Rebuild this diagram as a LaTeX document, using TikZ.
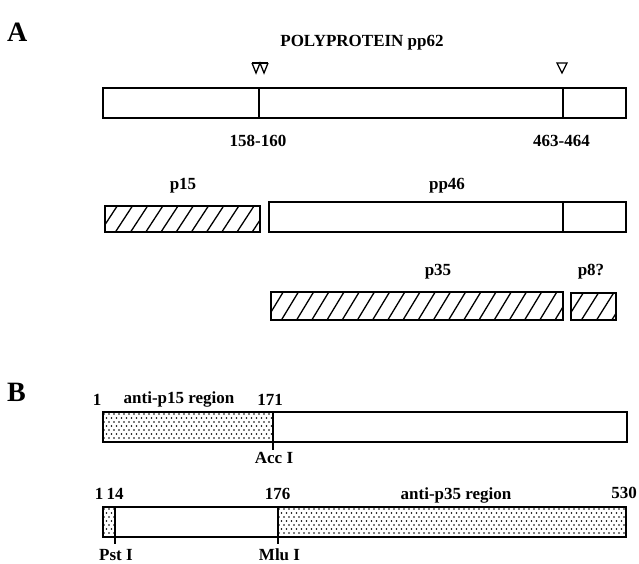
\documentclass[tikz,border=0pt]{standalone}
\usepackage{fontspec}
\setmainfont{Liberation Serif}
\newcommand\myhatch[4]{%
  \begin{scope}
    \clip (#1,#2) rectangle (#3,#4);
    \foreach \i in {0,...,24} {
      \pgfmathsetmacro\xx{#1-20+15.2*\i}
      \draw[line width=1.3pt] (\xx,#4) -- (\xx+17,#2);
    }
  \end{scope}}
\newcommand\mystip[4]{%
  \begin{scope}
    \clip (#1,#2) rectangle (#3,#4);
    \foreach \i in {0,...,70} {
      \foreach \j in {0,...,7} {
        \pgfmathsetmacro\xx{#1+1+5*\i+2.5*mod(\j,2)}
        \pgfmathsetmacro\yy{#2+2+4*\j}
        \fill (\xx,\yy) circle (0.85pt);
      }
    }
  \end{scope}}
\begin{document}
\begin{tikzpicture}[x=1pt,y=-1pt,
  lbl/.style={inner sep=0pt, anchor=base, font=\fontsize{17}{19}\selectfont\bfseries},
  big/.style={inner sep=0pt, anchor=base west, font=\fontsize{28}{30}\selectfont\bfseries},
  bar/.style={draw, line width=2.3pt},
  div/.style={line width=1.7pt},
  tri/.style={line width=1.3pt, line join=miter},
]
\useasboundingbox (0,0) rectangle (639,563);

% ---------- A ----------
\node[big] (A) at (7,41) {A};
\node[lbl] (poly) at (362,46) {POLYPROTEIN pp62};

% cleavage markers
\draw[tri] (252,63) -- (268,63);
\draw[tri] (252,63) -- (256,73) -- (260,63) -- (264,73) -- (268,63);
\draw[tri] (557,63) -- (567,63) -- (562,73) -- cycle;

% polyprotein bar
\draw[bar] (103,88) rectangle (626,118);
\draw[div] (259,88) -- (259,118);
\draw[div] (562.7,88) -- (562.7,118);
\node[lbl] (c1) at (258,146) {158-160};
\node[lbl] (c2) at (561.5,146) {463-464};

% p15 and pp46
\node[lbl] (p15) at (183,189) {p15};
\node[lbl] (pp46) at (447,189) {pp46};
\myhatch{105}{206}{260}{232}
\draw[bar] (105,206) rectangle (260,232);
\draw[bar] (269,202) rectangle (626,232);
\draw[div] (562.7,202) -- (562.7,232);

% p35 and p8?
\node[lbl] (p35) at (438,275) {p35};
\node[lbl] (p8) at (591,275) {p8?};
\myhatch{271}{292}{563}{320}
\draw[bar] (271,292) rectangle (563,320);
\myhatch{571}{293}{616}{320}
\draw[bar] (571,293) rectangle (616,320);

% ---------- B ----------
\node[big] (B) at (7,401) {B};

\node[lbl] (b1) at (97,405) {1};
\node[lbl] (ap15) at (179,403) {anti-p15 region};
\node[lbl] (b171) at (270,405) {171};
\mystip{103}{412}{273}{442}
\draw[bar] (103,412) rectangle (627,442);
\draw[div] (273,412) -- (273,450);
\node[lbl] (acc) at (274,463) {Acc I};

\node[lbl] (c1b) at (99,499) {1};
\node[lbl] (b14) at (115,499) {14};
\node[lbl] (b176) at (277.5,499) {176};
\node[lbl] (ap35) at (456,499) {anti-p35 region};
\node[lbl] (b530) at (624,498) {530};
\mystip{103}{507}{115}{537}
\mystip{278}{507}{626}{537}
\draw[bar] (103,507) rectangle (626,537);
\draw[div] (115,507) -- (115,544);
\draw[div] (278,507) -- (278,544);
\node[lbl] (pst) at (116,560) {Pst I};
\node[lbl] (mlu) at (279.5,560) {Mlu I};
\end{tikzpicture}
\end{document}
